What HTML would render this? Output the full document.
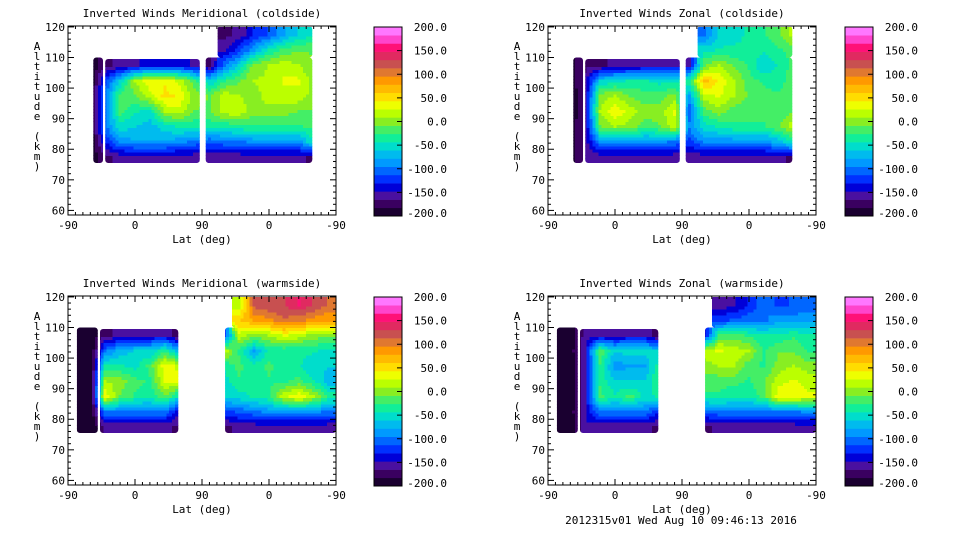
<!DOCTYPE html>
<html><head><meta charset="utf-8">
<style>
body{margin:0;background:#fff;}
svg{display:block;font-family:"DejaVu Sans Mono","Liberation Mono",monospace;font-size:11px;}
</style></head>
<body>
<svg id="chart" width="960" height="540" viewBox="0 0 960 540" xmlns="http://www.w3.org/2000/svg">
<rect width="960" height="540" fill="#fff"/>
<defs id="defs"></defs>
<text x="681" y="524" text-anchor="middle">2012315v01 Wed Aug 10 09:46:13 2016</text>
</svg>
<script>
// orbit coordinate column centers (0..360 => lat -90,0,90,0,-90)
const colCenters = [10,30,50,70,90,110,130,150,170,190,210,230,250,270,290,310,330,350];
const altRows = [75,80,85,90,95,100,105,110,115];
const xTickPos = [0,90,180,270,360];
const xTickLabels = ["-90","0","90","0","-90"];
const yTicks = [60,70,80,90,100,110,120];
const cbarTicks = [200,150,100,50,0,-50,-100,-150,-200];
const N = null;
// data coverage regions [sStart, sEnd, altBottom, altTop]
const coldRegions = [[34,47,75.5,110],[50,177,75.5,109.5],[185,328,75.5,110],[201,328,110,120.3]];
const warmRegions = [[12,40,75.5,110],[43,148,75.5,109.5],[211,360,75.5,110],[220,360,110,120.3]];
// values per panel: columns (colCenters) x rows (altRows bottom->top)
const merCold = [
 [N,N,N,N,N,N,N,N,N],
 [-200,-200,-200,-200,-200,-200,-200,N,N],
 [-170,-130,-100,-100,-100,-120,-170,N,N],
 [-160,-90,-50,-20,-20,-60,-160,N,N],
 [-160,-80,-60,-40,-10,10,-150,N,N],
 [-160,-80,-70,-50,20,40,-140,N,N],
 [-160,-80,-50,10,50,40,-140,N,N],
 [-160,-90,-40,20,40,20,-140,N,N],
 [-160,-100,-40,-10,0,-20,-150,N,N],
 [-160,-110,-40,-10,-10,-60,-170,N,N],
 [-160,-100,-40,20,20,-30,-100,-150,-170],
 [-160,-100,-30,20,10,-10,-60,-120,-160],
 [-160,-90,-30,0,0,10,0,-80,-130],
 [-160,-90,-30,0,20,10,10,-40,-110],
 [-160,-90,-30,0,20,30,20,-20,-80],
 [-160,-90,-30,-10,20,30,10,-10,-60],
 [-170,-40,-20,-10,0,0,-10,-10,-40],
 [N,N,N,N,N,N,N,N,N]];
const zonCold = [
 [N,N,N,N,N,N,N,N,N],
 [-190,-190,-195,-200,-200,-195,-190,N,N],
 [-160,-160,-160,-160,-160,-160,-170,N,N],
 [-160,-90,-10,10,0,-60,-170,N,N],
 [-160,-90,10,40,10,-50,-160,N,N],
 [-160,-90,0,20,-10,-40,-160,N,N],
 [-160,-90,-20,0,-20,-40,-150,N,N],
 [-160,-90,-10,0,-20,-50,-150,N,N],
 [-160,-100,20,30,0,-50,-150,N,N],
 [-160,-120,-90,-110,-80,-30,-150,N,N],
 [-160,-90,-50,-20,20,70,-10,-50,-100],
 [-160,-90,-40,0,30,40,10,-40,-60],
 [-160,-90,-30,-20,10,10,-10,-40,-50],
 [-160,-90,-30,-20,-10,-20,-30,-40,-40],
 [-160,-90,-30,-20,-20,-30,-60,-40,-30],
 [-160,-70,-10,-20,-20,-40,-40,-30,-10],
 [-170,-40,20,-10,-10,-10,-20,-20,20],
 [N,N,N,N,N,N,N,N,N]];
const merWarm = [
 [-200,-200,-200,-200,-200,-200,-200,N,N],
 [-200,-200,-200,-200,-200,-200,-200,N,N],
 [-160,-100,40,10,-40,-100,-170,N,N],
 [-160,-100,-10,0,-40,-70,-160,N,N],
 [-160,-100,-30,-20,-50,-60,-150,N,N],
 [-160,-100,-40,-30,-20,-60,-150,N,N],
 [-160,-100,-10,30,40,-30,-150,N,N],
 [-170,-150,-50,30,20,-80,-180,N,N],
 [N,N,N,N,N,N,N,N,N],
 [N,N,N,N,N,N,N,N,N],
 [-170,-120,-60,-50,-40,20,-120,N,N],
 [-160,-110,-50,-30,-20,-30,20,60,10],
 [-160,-100,-40,-40,-40,-80,0,80,120],
 [-160,-90,-30,-30,-20,-40,10,90,130],
 [-160,-90,20,-30,-40,-40,30,110,130],
 [-160,-90,40,-20,-40,-40,20,100,150],
 [-160,-90,10,-40,-60,-40,0,90,130],
 [-160,-100,-30,-70,-60,-50,0,80,110]];
const zonWarm = [
 [-200,-200,-200,-200,-200,-200,-200,N,N],
 [-195,-190,-195,-200,-195,-190,-195,N,N],
 [-150,-150,-150,-150,-150,-150,-160,N,N],
 [-160,-100,-20,-30,-30,-10,-160,N,N],
 [-160,-100,-40,-60,-90,-60,-150,N,N],
 [-160,-100,-20,-60,-80,-50,-150,N,N],
 [-160,-100,-50,-60,-80,-50,-150,N,N],
 [-170,-130,-40,-20,-30,-60,-180,N,N],
 [N,N,N,N,N,N,N,N,N],
 [N,N,N,N,N,N,N,N,N],
 [-170,-110,-30,-20,0,20,-140,N,N],
 [-160,-100,-30,-20,10,30,-20,-120,-160],
 [-160,-100,-40,-20,10,20,-20,-110,-150],
 [-160,-100,-40,-30,-20,10,-30,-100,-130],
 [-160,-100,-20,-10,-30,-30,-40,-100,-100],
 [-160,-100,40,20,0,-10,-40,-80,-120],
 [-160,-100,40,30,10,-10,-30,-90,-110],
 [-160,-90,30,20,0,-30,-40,-80,-110]];

const palette=['#1a0030','#3a0060','#4a10a0','#0000d8','#0030ff','#0066ff','#0099ff','#00bbee','#00ddcc','#11ee99','#44ee66','#88ee22','#bbff00','#eeff00','#ffdd00','#ffbb00','#ff9900','#e07830','#c85050','#e02a60','#ff1177','#ff44cc','#ff77ff'];
function colorOf(v){let i=Math.floor((v+200)/400*palette.length);i=Math.max(0,Math.min(palette.length-1,i));return palette[i];}

const svg=document.getElementById('chart');
const defs=document.getElementById('defs');
const NS='http://www.w3.org/2000/svg';
function mk(tag,attrs,parent){const e=document.createElementNS(NS,tag);for(const k in attrs)e.setAttribute(k,attrs[k]);(parent||svg).appendChild(e);return e;}

const panels=[
 {title:'Inverted Winds Meridional (coldside)',data:merCold,regions:coldRegions,px:68,py:26,cx:374,name:'meridional-coldside'},
 {title:'Inverted Winds Zonal (coldside)',data:zonCold,regions:coldRegions,px:548,py:26,cx:845,name:'zonal-coldside'},
 {title:'Inverted Winds Meridional (warmside)',data:merWarm,regions:warmRegions,px:68,py:296,cx:374,name:'meridional-warmside'},
 {title:'Inverted Winds Zonal (warmside)',data:zonWarm,regions:warmRegions,px:548,py:296,cx:845,name:'zonal-warmside'}];
const PW=268,PH=189,A0=58.5,A1=120.3;

panels.forEach((p,pi)=>{
 const g=mk('g',{});
 
 
 const xs=s=>p.px+s/360*PW;
 const ys=a=>p.py+PH-(a-A0)/(A1-A0)*PH;
 const t=mk('text',{x:p.px+PW/2,y:p.py-9,'text-anchor':'middle'},g);t.textContent=p.title;
 
 // clip to data coverage
 const cp=mk('clipPath',{id:'clip'+pi},defs);
 p.regions.forEach(r=>{mk('rect',{x:xs(r[0]),y:ys(r[3]),width:xs(r[1])-xs(r[0]),height:ys(r[2])-ys(r[3]),rx:3},cp);});
 const cg=mk('g',{'shape-rendering':'crispEdges','clip-path':'url(#clip'+pi+')'},g);
 
 const d=p.data,nc=colCenters.length,nr=altRows.length,SUB=5;
 const val=(i,j)=>(i<0||j<0||i>=nc||j>=nr)?null:d[i][j];
 for(let i=0;i<nc;i++)for(let j=0;j<nr;j++){
  const v=d[i][j];if(v===null)continue;
  for(let a=0;a<SUB;a++)for(let b=0;b<SUB;b++){
   const fx=(a+0.5)/SUB-0.5,fy=(b+0.5)/SUB-0.5;
   const di=fx<0?-1:1,dj=fy<0?-1:1;
   const wx=Math.abs(fx),wy=Math.abs(fy);
   const n1=val(i+di,j);const n2=val(i,j+dj);const n3=val(i+di,j+dj);
   const v1=n1===null?v:n1,v2=n2===null?v:n2,v3=n3===null?(n1===null?v2:(n2===null?v1:v)):n3;
   const vv=v*(1-wx)*(1-wy)+v1*wx*(1-wy)+v2*(1-wx)*wy+v3*wx*wy;
   const s0=colCenters[i]-10+a*20/SUB,a0=altRows[j]+b*5/SUB;
   const x0=xs(s0),x1=xs(s0+20/SUB),y0=ys(a0+5/SUB),y1=ys(a0);
   const r=mk('rect',{x:x0.toFixed(2),y:y0.toFixed(2),width:(x1-x0+0.4).toFixed(2),height:(y1-y0+0.4).toFixed(2),fill:colorOf(vv)},cg);
   
   
  }
 }
 const fr=mk('rect',{x:p.px,y:p.py,width:PW,height:PH,fill:'none',stroke:'#000','stroke-width':1},g);
 
 for(let s=0;s<=360;s+=10){const L=(s%90===0)?6:3;
  mk('line',{x1:xs(s),x2:xs(s),y1:p.py+PH,y2:p.py+PH-L,stroke:'#000'},g);
  mk('line',{x1:xs(s),x2:xs(s),y1:p.py,y2:p.py+L,stroke:'#000'},g);}
 xTickPos.forEach((s,k)=>{const tt=mk('text',{x:xs(s),y:p.py+PH+14,'text-anchor':'middle'},g);tt.textContent=xTickLabels[k];
  });
 const xl=mk('text',{x:p.px+PW/2,y:p.py+PH+28,'text-anchor':'middle'},g);xl.textContent='Lat (deg)';
 
 for(let a=60;a<=120;a+=2){const L=(a%10===0)?6:3;
  mk('line',{x1:p.px,x2:p.px+L,y1:ys(a),y2:ys(a),stroke:'#000'},g);
  mk('line',{x1:p.px+PW,x2:p.px+PW-L,y1:ys(a),y2:ys(a),stroke:'#000'},g);}
 yTicks.forEach(a=>{const tt=mk('text',{x:p.px-3,y:ys(a)+4,'text-anchor':'end'},g);tt.textContent=String(a);
  });
 const yl=mk('text',{x:p.px-31,y:p.py+24,'text-anchor':'middle'},g);
 
 'Altitude (km)'.split('').forEach((ch,k)=>{const sp=mk('tspan',{x:p.px-31,dy:k?10:0},yl);sp.textContent=ch===' '?'\u00a0':ch;});
 const cb=mk('g',{},g);
 const bh=PH/palette.length;
 palette.forEach((c,k)=>{mk('rect',{x:p.cx,y:(p.py+1+PH-(k+1)*bh).toFixed(2),width:28,height:(bh+0.3).toFixed(2),fill:c},cb);});
 mk('rect',{x:p.cx,y:p.py+1,width:28,height:PH,fill:'none',stroke:'#000'},cb);
 cbarTicks.forEach(v=>{const y=p.py+1+PH-(v+200)/400*PH;
  mk('line',{x1:p.cx+23,x2:p.cx+28,y1:y,y2:y,stroke:'#000'},cb);
  const tt=mk('text',{x:p.cx+73,y:Math.max(p.py+4,Math.min(p.py+PH+2,y+4)),'text-anchor':'end'},cb);tt.textContent=v.toFixed(1);
  });
});
</script>
</body></html>
